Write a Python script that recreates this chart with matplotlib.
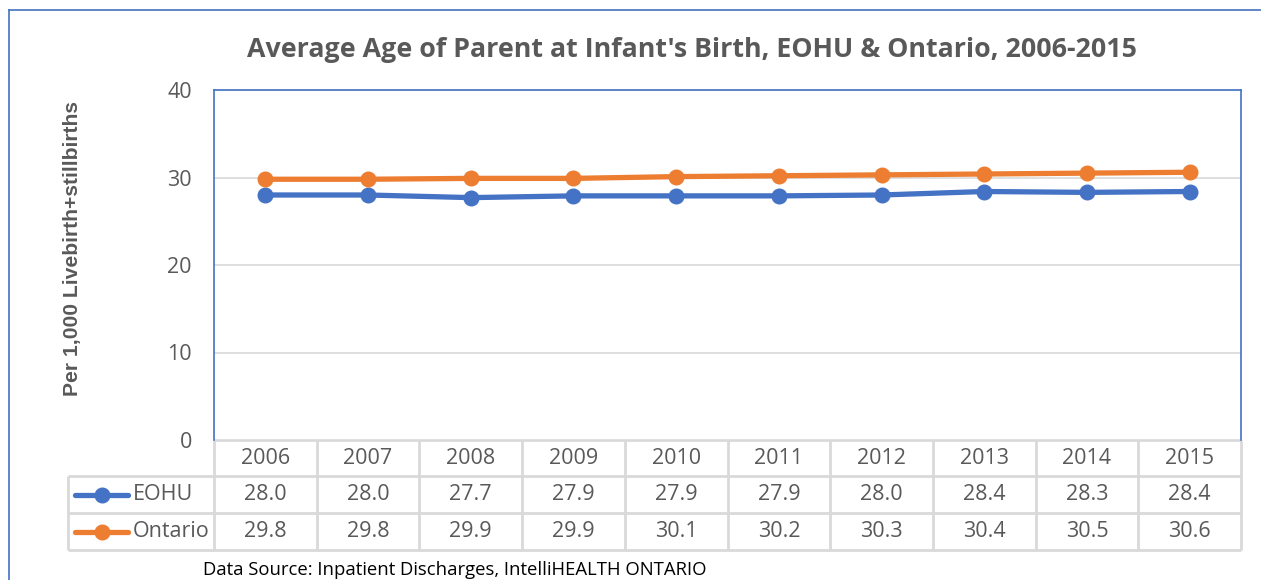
import numpy as np
import matplotlib.pyplot as plt

years = ["2006", "2007", "2008", "2009", "2010", "2011", "2012", "2013", "2014", "2015"]
eohu = [28.0, 28.0, 27.7, 27.9, 27.9, 27.9, 28.0, 28.4, 28.3, 28.4]
ontario = [29.8, 29.8, 29.9, 29.9, 30.1, 30.2, 30.3, 30.4, 30.5, 30.6]
series_names = ["EOHU", "Ontario"]
series_colors = ["#4472C4", "#ED7D31"]
yticks = [0, 10, 20, 30, 40]

title = "Average Age of Parent at Infant's Birth, EOHU & Ontario, 2006-2015"
ylabel = "Per 1,000 Livebirth+stillbirths"
source = "Data Source: Inpatient Discharges, IntelliHEALTH ONTARIO"

W, H = 1261, 580
txt = "#595959"
grid_c = "#D9D9D9"
font = "Open Sans"

fig = plt.figure(figsize=(W / 100, H / 100), dpi=100)

# pixel-space overlay for borders, table, text
ov = fig.add_axes([0, 0, 1, 1])
ov.set_xlim(0, W)
ov.set_ylim(H, 0)
ov.axis("off")

# plot area
px0, px1, py0, py1 = 214, 1241, 90, 440
ax = fig.add_axes([px0 / W, 1 - py1 / H, (px1 - px0) / W, (py1 - py0) / H])
x = np.arange(len(years))
for vals, c in zip([eohu, ontario], series_colors):
    ax.plot(x, vals, color=c, lw=3.8, marker="o", ms=10.5, zorder=3)
ax.set_xlim(-0.5, len(years) - 0.5)
ax.set_ylim(0, 40)
ax.set_yticks(yticks)
ax.yaxis.grid(True, color=grid_c, lw=1.2)
ax.set_xticks([])
ax.tick_params(axis="y", length=0, pad=16, labelsize=15.5, labelcolor=txt)
for lab in ax.get_yticklabels():
    lab.set_fontfamily(font)
for s in ["top", "left", "right"]:
    ax.spines[s].set_color("#4472C4")
    ax.spines[s].set_linewidth(1.2)
ax.spines["bottom"].set_visible(False)

# outer chart border
ov.plot([9, W + 5], [10, 10], color="#4472C4", lw=1.2)
ov.plot([9, 9], [10, H + 5], color="#4472C4", lw=1.2)

# title and y label
ov.text(692, 50, title, ha="center", va="center", fontsize=19.3,
        fontweight="bold", color=txt, family=font)
ov.text(73, 249, ylabel, ha="center", va="center", rotation=90, fontsize=15.2,
        fontweight="bold", color=txt, family="Liberation Sans")

# data table
rows = [440, 476, 513, 550]
lx = 68
cw = (px1 - px0) / len(years)
tk = dict(color=grid_c, lw=2, solid_capstyle="butt")
ov.plot([px0, px1], [rows[0], rows[0]], **tk)
for r in rows[1:]:
    ov.plot([lx, px1], [r, r], **tk)
for i in range(len(years) + 1):
    ov.plot([px0 + i * cw] * 2, [rows[0], rows[-1]], **tk)
ov.plot([lx, lx], [rows[1], rows[-1]], **tk)

tstyle = dict(ha="center", va="center", fontsize=15.5, color=txt, family=font)
for i, yr in enumerate(years):
    ov.text(px0 + (i + 0.5) * cw, (rows[0] + rows[1]) / 2, yr, **tstyle)
for j, (vals, name, c) in enumerate(zip([eohu, ontario], series_names, series_colors)):
    yc = (rows[j + 1] + rows[j + 2]) / 2
    for i, v in enumerate(vals):
        ov.text(px0 + (i + 0.5) * cw, yc, f"{v:.1f}", **tstyle)
    ov.plot([75, 128], [yc, yc], color=c, lw=3.8, solid_capstyle="round")
    ov.plot([102], [yc], marker="o", ms=10.5, color=c)
    ov.text(133, yc, name, ha="left", va="center", fontsize=15.5, color=txt, family=font)

ov.text(203, 570, source, ha="left", va="center", fontsize=13.3, color="black", family=font)

fig.savefig("out.png", dpi=100)
